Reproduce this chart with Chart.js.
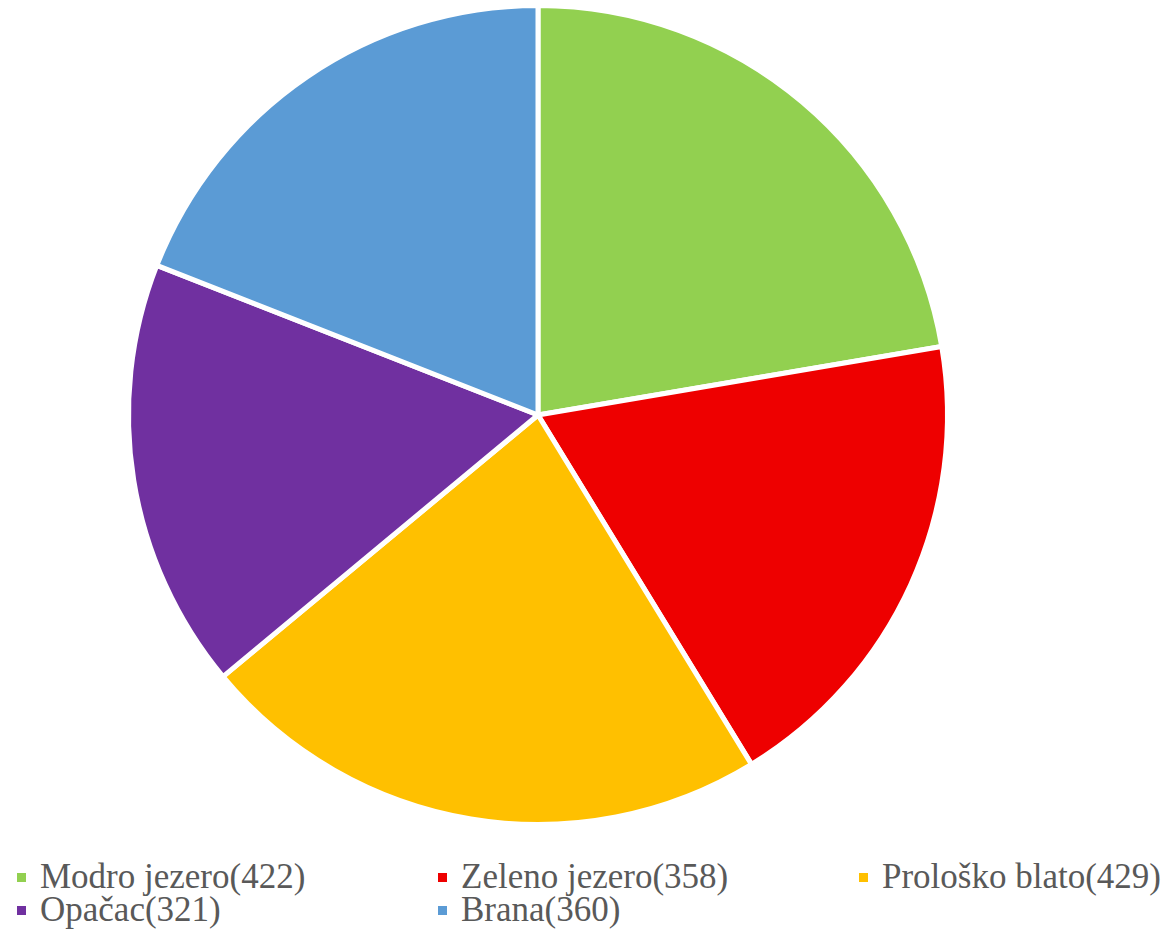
<!DOCTYPE html>
<html>
<head>
<meta charset="utf-8">
<script src="https://cdn.jsdelivr.net/npm/chart.js@4.4.0/dist/chart.umd.min.js"></script>
<style>
    body { margin: 0; background: #fff; width: 1168px; height: 932px; overflow: hidden; }
    #wrap { position: relative; width: 1168px; height: 830px; }
    #legend {
        position: absolute; left: 17px; top: 860px;
        display: grid; grid-template-columns: 421px 421px 310px;
        font-family: "Liberation Serif", "Times New Roman", serif;
        font-size: 35px; line-height: 33px; color: #595959;
    }
    .item { display: flex; align-items: center; white-space: nowrap; }
    .box { width: 9px; height: 9px; margin-right: 14px; margin-top: 2px; flex: none; }
</style>
</head>
<body>
<div id="wrap"><canvas id="myChart"></canvas></div>
<div id="legend"></div>
<script>
// podaci
var labels = ["Modro jezero", "Zeleno jezero", "Prološko blato", "Opačac", "Brana"];
var values = [422, 358, 429, 321, 360];
var colors = ["#92D050", "#EE0000", "#FFC000", "#7030A0", "#5B9BD5"];

new Chart("myChart", {
    type: "pie",
    data: {
        labels: labels,
        datasets: [{
            data: values,
            backgroundColor: colors,
            borderColor: "#ffffff",
            borderWidth: 5
        }]
    },
    options: {
        responsive: true,
        maintainAspectRatio: false,
        animation: false,
        layout: { padding: { left: 0, right: 92, top: 3, bottom: 3 } },
        plugins: {
            legend: { display: false },
            tooltip: { enabled: false }
        }
    }
});

// legenda
var legend = document.getElementById("legend");
for (let i = 0; i < labels.length; i++) {
    var item = document.createElement("div");
    item.className = "item";
    item.innerHTML = '<span class="box" style="background:' + colors[i] + '"></span>' + labels[i] + "(" + values[i] + ")";
    legend.appendChild(item);
}
</script>
</body>
</html>
